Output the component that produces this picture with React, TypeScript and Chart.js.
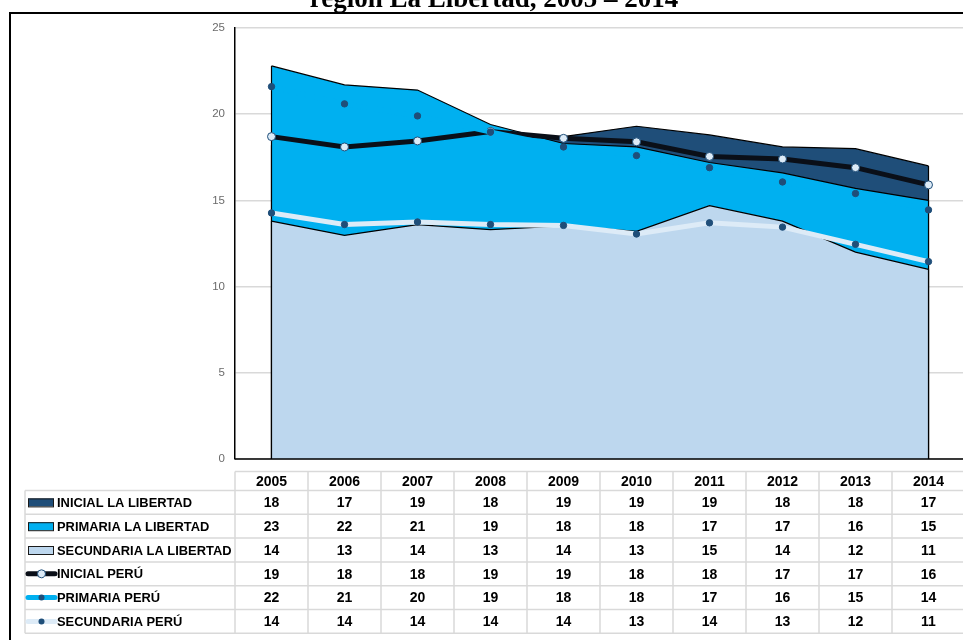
import { useEffect, useRef } from 'react';
import Chart from 'chart.js/auto';

const titleText = 'región La Libertad, 2005 – 2014';
const years = ['2005', '2006', '2007', '2008', '2009', '2010', '2011', '2012', '2013', '2014'];
const yTicks = [0, 5, 10, 15, 20, 25];

const inicialLL = [18.2, 17.3, 18.6, 18.4, 18.7, 19.3, 18.8, 18.1, 18.0, 17.0];
const primariaLL = [22.8, 21.7, 21.4, 19.4, 18.3, 18.1, 17.2, 16.6, 15.7, 15.0];
const secundariaLL = [13.8, 12.97, 13.6, 13.3, 13.52, 13.2, 14.7, 13.8, 12.0, 11.0];
const inicialPeru = [18.7, 18.1, 18.45, 19.0, 18.6, 18.4, 17.55, 17.4, 16.9, 15.9];
const primariaPeru = [21.6, 20.6, 19.9, 18.97, 18.1, 17.6, 16.9, 16.07, 15.4, 14.45];
const secundariaPeru = [14.27, 13.6, 13.75, 13.6, 13.55, 13.05, 13.7, 13.45, 12.45, 11.45];

const seriesNames = [
  'INICIAL LA LIBERTAD',
  'PRIMARIA LA LIBERTAD',
  'SECUNDARIA LA LIBERTAD',
  'INICIAL PERÚ',
  'PRIMARIA PERÚ',
  'SECUNDARIA PERÚ',
];

const NAVY = '#1F4E79';
const BRIGHT = '#00B0F0';
const LIGHT = '#BDD7EE';
const BLACKLINE = '#0A0F18';
const PALE = '#DDEBF7';
const GRID = '#D9D9D9';

const decorPlugin = {
  id: 'decor',
  beforeDraw(chart: any) {
    const ctx = chart.ctx;
    ctx.save();
    ctx.fillStyle = '#ffffff';
    ctx.fillRect(0, 0, chart.width, chart.height);
    ctx.font = 'bold 27px "Liberation Serif"';
    ctx.fillStyle = '#000';
    ctx.textAlign = 'center';
    ctx.textBaseline = 'alphabetic';
    ctx.fillText(titleText, 494, 7);
    ctx.strokeStyle = '#000';
    ctx.lineWidth = 2;
    ctx.strokeRect(10, 13, chart.width + 20, chart.height + 20);
    ctx.restore();
  },
  afterDatasetDraw(chart: any, args: any) {
    if (args.index > 2) return;
    const ctx = chart.ctx;
    const pts = args.meta.data;
    const y0 = chart.scales.y.getPixelForValue(0);
    ctx.save();
    ctx.strokeStyle = '#000';
    ctx.lineWidth = 1.2;
    ctx.beginPath();
    for (const p of [pts[0], pts[pts.length - 1]]) {
      ctx.moveTo(p.x, p.y);
      ctx.lineTo(p.x, y0);
    }
    ctx.stroke();
    ctx.restore();
  },
  afterDraw(chart: any) {
    const ctx = chart.ctx;
    const xs = chart.scales.x;
    const ys = chart.scales.y;
    const area = chart.chartArea;
    const y0 = ys.getPixelForValue(0);
    ctx.save();
    ctx.strokeStyle = '#000';
    ctx.lineWidth = 1.5;
    ctx.beginPath();
    ctx.moveTo(area.left, y0);
    ctx.lineTo(area.right, y0);
    ctx.stroke();

    const colW = (area.right - area.left) / years.length;
    const headTop = 471.5;
    const rowTop = 490.5;
    const rowH = 23.8;
    const nRows = seriesNames.length;
    const tableBottom = rowTop + nRows * rowH;
    const labelLeft = 25;
    ctx.strokeStyle = GRID;
    ctx.lineWidth = 1.5;
    ctx.beginPath();
    ctx.moveTo(area.left, headTop);
    ctx.lineTo(area.right, headTop);
    for (let r = 0; r <= nRows; r++) {
      const y = rowTop + r * rowH;
      ctx.moveTo(labelLeft, y);
      ctx.lineTo(area.right, y);
    }
    ctx.moveTo(labelLeft, rowTop);
    ctx.lineTo(labelLeft, tableBottom);
    for (let c = 0; c <= years.length; c++) {
      const x = area.left + c * colW;
      ctx.moveTo(x, headTop);
      ctx.lineTo(x, tableBottom);
    }
    ctx.stroke();

    ctx.fillStyle = '#000';
    ctx.textAlign = 'center';
    ctx.textBaseline = 'middle';
    ctx.font = 'bold 14px "Liberation Sans"';
    years.forEach((yr, i) => {
      ctx.fillText(yr, xs.getPixelForValue(i), (headTop + rowTop) / 2 + 1);
    });
    const allSeries = [inicialLL, primariaLL, secundariaLL, inicialPeru, primariaPeru, secundariaPeru];
    allSeries.forEach((s, r) => {
      const cy = rowTop + r * rowH + rowH / 2 + 1;
      s.forEach((v, i) => {
        ctx.fillText(String(Math.round(v)), xs.getPixelForValue(i), cy);
      });
    });

    ctx.textAlign = 'left';
    ctx.font = 'bold 12.9px "Liberation Sans"';
    const areaColors = [NAVY, BRIGHT, LIGHT];
    seriesNames.forEach((name, r) => {
      const cy = rowTop + r * rowH + rowH / 2;
      ctx.fillStyle = '#000';
      ctx.fillText(name, 57, cy + 1);
      if (r < 3) {
        ctx.fillStyle = areaColors[r];
        ctx.fillRect(28, cy - 4, 26, 8);
        ctx.strokeStyle = '#1a1a1a';
        ctx.lineWidth = 1;
        ctx.strokeRect(28.5, cy - 3.5, 25, 8);
      } else {
        const lineColors = [BLACKLINE, BRIGHT, PALE];
        ctx.strokeStyle = lineColors[r - 3];
        ctx.lineWidth = 5;
        ctx.lineCap = 'round';
        ctx.beginPath();
        ctx.moveTo(28, cy);
        ctx.lineTo(55, cy);
        ctx.stroke();
        ctx.beginPath();
        if (r === 3) {
          ctx.arc(41.5, cy, 4, 0, Math.PI * 2);
          ctx.fillStyle = PALE;
          ctx.fill();
          ctx.lineWidth = 1;
          ctx.strokeStyle = NAVY;
          ctx.stroke();
        } else {
          ctx.arc(41.5, cy, 3, 0, Math.PI * 2);
          ctx.fillStyle = NAVY;
          ctx.fill();
        }
      }
    });
    ctx.restore();
  },
};

export default function App() {
  const ref = useRef<HTMLCanvasElement>(null);

  useEffect(() => {
    const canvas = ref.current;
    if (!canvas) return;
    const areaDs = (label: string, data: number[], color: string, order: number) => ({
      label,
      data,
      backgroundColor: color,
      borderColor: '#000',
      borderWidth: 1.2,
      fill: 'origin',
      pointRadius: 0,
      tension: 0,
      order,
    });
    const lineDs = (
      label: string,
      data: number[],
      color: string,
      ptFill: string,
      ptBorder: string,
      radius: number,
      order: number
    ) => ({
      label,
      data,
      borderColor: color,
      borderWidth: 5,
      backgroundColor: ptFill,
      fill: false,
      pointRadius: radius,
      pointBackgroundColor: ptFill,
      pointBorderColor: ptBorder,
      pointBorderWidth: 1,
      tension: 0,
      order,
    });
    const chart = new Chart(canvas, {
      type: 'line',
      data: {
        labels: years,
        datasets: [
          areaDs(seriesNames[0], inicialLL, NAVY, 6),
          areaDs(seriesNames[1], primariaLL, BRIGHT, 5),
          areaDs(seriesNames[2], secundariaLL, LIGHT, 4),
          lineDs(seriesNames[3], inicialPeru, BLACKLINE, PALE, NAVY, 4, 3),
          lineDs(seriesNames[4], primariaPeru, BRIGHT, NAVY, NAVY, 3.2, 2),
          lineDs(seriesNames[5], secundariaPeru, PALE, NAVY, NAVY, 3.2, 1),
        ] as any,
      },
      options: {
        animation: false,
        responsive: false,
        devicePixelRatio: 1,
        events: [],
        layout: { padding: { left: 0, top: 28, right: 10, bottom: 181 } },
        plugins: {
          legend: { display: false },
          tooltip: { enabled: false },
          title: { display: false },
        },
        scales: {
          x: {
            type: 'category',
            display: false,
            offset: true,
          },
          y: {
            min: 0,
            max: 25,
            afterFit: (s: any) => {
              s.width = 235;
            },
            afterBuildTicks: (s: any) => {
              s.ticks = yTicks.map((v) => ({ value: v }));
            },
            grid: { color: GRID, lineWidth: 1.5, drawTicks: false },
            border: { color: '#000', width: 1.5 },
            ticks: {
              padding: 10,
              color: '#6b6b6b',
              font: { family: '"Liberation Sans"', size: 11.5 },
            },
          },
        },
      },
      plugins: [decorPlugin],
    });
    return () => chart.destroy();
  }, []);

  return (
    <div
      style={{
        position: 'fixed',
        left: 0,
        top: 0,
        width: 963,
        height: 640,
        overflow: 'hidden',
        background: '#fff',
      }}
    >
      <canvas ref={ref} width={975} height={640} style={{ display: 'block', width: 975, height: 640 }} />
    </div>
  );
}
